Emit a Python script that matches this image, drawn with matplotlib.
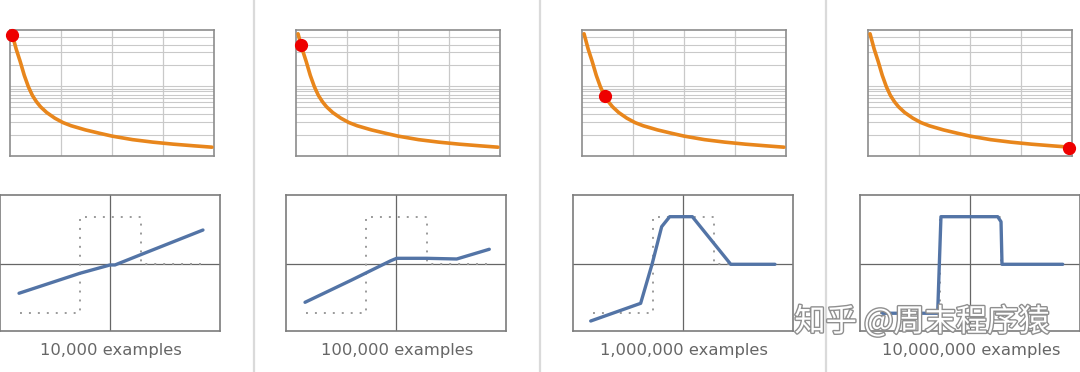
import matplotlib
matplotlib.use("Agg")
import matplotlib.pyplot as plt
import matplotlib.patheffects as pe

W, H = 1080, 372

# ---------------- data ----------------
panel_labels = ["10,000 examples", "100,000 examples", "1,000,000 examples", "10,000,000 examples"]

# loss curve (fraction of training, relative loss)
loss_x = [0.01, 0.03, 0.05, 0.07, 0.09, 0.11, 0.13, 0.15, 0.18, 0.22, 0.26, 0.30,
          0.37, 0.44, 0.50, 0.60, 0.70, 0.80, 0.90, 0.99]
loss_y = [0.97, 0.85, 0.75, 0.64, 0.55, 0.48, 0.43, 0.39, 0.345, 0.30, 0.265, 0.24,
          0.207, 0.18, 0.158, 0.13, 0.11, 0.094, 0.081, 0.07]
loss_grid_y = [0.170, 0.273, 0.337, 0.390, 0.431, 0.461, 0.487, 0.512, 0.533, 0.556,
               0.722, 0.823, 0.881, 0.947]
loss_grid_x = [0.25, 0.50, 0.75]
marker_x = [0.012, 0.025, 0.113, 0.985]
marker_y = [0.96, 0.88, 0.475, 0.061]

# target function (dotted)
target_x = [-0.82, -0.30, -0.27, -0.27, 0.25, 0.28, 0.28, 0.83]
target_y = [-0.72, -0.72, -0.72, 0.70, 0.70, 0.70, 0.0, 0.0]

# network outputs
out_x = [
    [-0.827, -0.273, 0.0, 0.045, 0.288, 0.845],
    [-0.827, -0.403, -0.052, 0.006, 0.279, 0.552, 0.848],
    [-0.839, -0.385, -0.279, -0.194, -0.121, 0.085, 0.434, 0.836],
    [-0.794, -0.294, -0.264, 0.252, 0.282, 0.291, 0.843],
]
out_y = [
    [-0.426, -0.132, -0.01, -0.01, 0.147, 0.504],
    [-0.559, -0.231, 0.049, 0.088, 0.088, 0.078, 0.221],
    [-0.834, -0.574, 0.015, 0.553, 0.70, 0.70, 0.0, 0.0],
    [-0.72, -0.72, 0.70, 0.70, 0.626, 0.0, 0.0],
]

# ---------------- layout ----------------
top_left = [10, 296, 582, 868]
top_w = 204
bot_left = [0, 286, 573, 860]
bot_w = 220
separators = [254, 540, 826]


def rect(x0, y0, x1, y1):
    return [x0 / W, 1 - y1 / H, (x1 - x0) / W, (y1 - y0) / H]


fig = plt.figure(figsize=(W / 100, H / 100), dpi=100)
fig.patch.set_facecolor("white")

# separators
for sx in separators:
    fig.add_artist(plt.Line2D([sx / W, sx / W], [0, 1], color="#dadada", lw=1.6,
                              transform=fig.transFigure))

orange = "#e8861c"
blue = "#5374a6"

for i in range(4):
    # top: loss curve
    ax = fig.add_axes(rect(top_left[i], 30, top_left[i] + top_w, 156))
    ax.set_xlim(0, 1)
    ax.set_ylim(0, 1)
    for gy in loss_grid_y:
        ax.axhline(gy, color="#c9c9c9", lw=0.8, zorder=1)
    for gx in loss_grid_x:
        ax.axvline(gx, color="#c9c9c9", lw=0.9, zorder=1)
    ax.plot(loss_x, loss_y, color=orange, lw=2.6, solid_capstyle="round", zorder=3)
    ax.plot([marker_x[i]], [marker_y[i]], "o", color="#ee0000", ms=8.5, zorder=4,
            clip_on=False)
    ax.set_xticks([])
    ax.set_yticks([])
    for s in ax.spines.values():
        s.set_color("#8c8c8c")
        s.set_linewidth(1.2)

    # bottom: function approximation
    bx = fig.add_axes(rect(bot_left[i], 195, bot_left[i] + bot_w, 331))
    bx.set_xlim(-1, 1)
    bx.set_ylim(-0.981, 1.019)
    bx.axhline(0, color="#666666", lw=0.9, zorder=1)
    bx.axvline(0, color="#666666", lw=0.9, zorder=1)
    bx.plot(target_x, target_y, color="#9a9a9a", lw=1.4, ls=(0, (1, 3.6)), zorder=2)
    bx.plot(out_x[i], out_y[i], color=blue, lw=2.4, solid_capstyle="round",
            solid_joinstyle="round", zorder=3)
    bx.set_xticks([])
    bx.set_yticks([])
    for s in bx.spines.values():
        s.set_color("#7c7c7c")
        s.set_linewidth(1.2)

    cx = (bot_left[i] + bot_w / 2 + 1) / W
    fig.text(cx, 1 - 350 / H, panel_labels[i], ha="center", va="center",
             fontsize=11.8, color="#666666", family="DejaVu Sans")

# watermark
fig.text(922 / W, 1 - 322 / H, "知乎 @周末程序猿", ha="center", va="center",
         fontsize=22.5, color="white", family=["Noto Sans CJK SC", "DejaVu Sans"],
         zorder=10,
         path_effects=[pe.withStroke(linewidth=2.0, foreground="#8f8f8f")])

fig.savefig("out.png", dpi=100, facecolor="white")
